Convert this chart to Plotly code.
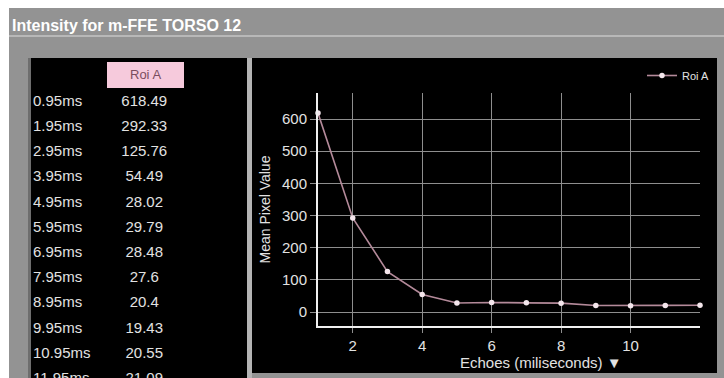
import plotly.graph_objects as go

# ---- data ---------------------------------------------------------------
echo_times = ["0.95ms", "1.95ms", "2.95ms", "3.95ms", "4.95ms", "5.95ms",
              "6.95ms", "7.95ms", "8.95ms", "9.95ms", "10.95ms", "11.95ms"]
roi_a = [618.49, 292.33, 125.76, 54.49, 28.02, 29.79,
         28.48, 27.6, 20.4, 19.43, 20.55, 21.09]
echo_numbers = [1, 2, 3, 4, 5, 6, 7, 8, 9, 10, 11, 12]
x_ticks = [2, 4, 6, 8, 10]
y_ticks = [0, 100, 200, 300, 400, 500, 600]
series_name = "Roi A"
window_title = "Intensity for m-FFE TORSO 12"
x_title = "Echoes (miliseconds) \u25BC"
y_title = "Mean Pixel Value"

W, H = 724, 378
FONT = "Liberation Sans"
TXT = "#e2e2e2"


def px(x):
    return x / W


def py(y):
    return 1 - y / H


def rect(x0, y0, x1, y1, color):
    return dict(type="rect", xref="paper", yref="paper", layer="below",
                x0=px(x0), x1=px(x1), y0=py(y1), y1=py(y0),
                fillcolor=color, line=dict(width=0))


fig = go.Figure()

# intensity curve
fig.add_trace(go.Scatter(
    x=echo_numbers, y=roi_a, name=series_name, mode="lines+markers",
    line=dict(color="#b48a9a", width=1.6),
    marker=dict(color="#f4e6ec", size=5.5),
    xaxis="x", yaxis="y", cliponaxis=False,
))

# value table (row index on a hidden axis)
rows = list(range(len(echo_times)))
fig.add_trace(go.Scatter(
    x=[0.0] * len(rows), y=rows, text=echo_times, mode="text",
    textposition="middle right", textfont=dict(family=FONT, size=15, color=TXT),
    xaxis="x2", yaxis="y2", showlegend=False, hoverinfo="skip",
))
fig.add_trace(go.Scatter(
    x=[0.52] * len(rows), y=rows,
    text=[f"{v:g}" for v in roi_a], mode="text",
    textposition="middle center", textfont=dict(family=FONT, size=15, color=TXT),
    xaxis="x2", yaxis="y2", showlegend=False, hoverinfo="skip",
))

row0, row_step = 102, 25.2
tbl_top, tbl_bot = 58, H

shapes = [
    rect(9, 8, W, H, "#939393"),          # window frame
    rect(9, 35, W, 37, "#b8b8b8"),        # separator under the title bar
    rect(28, 58, 31, H, "#6e6e6e"),
    rect(31, 58, 247, H, "#000000"),      # table panel
    rect(247, 58, 252, H, "#b4b4b4"),     # divider
    rect(252, 58, 717, 373, "#000000"),   # chart panel
    rect(107, 62, 184, 88, "#f6cadc"),    # column header
]

annotations = [
    dict(text=f"<b>{window_title}</b>", xref="paper", yref="paper",
         x=px(10), y=py(25), xanchor="left", yanchor="middle", showarrow=False,
         font=dict(family=FONT, size=16, color="#ffffff")),
    dict(text=series_name, xref="paper", yref="paper",
         x=px(145.5), y=py(75), xanchor="center", yanchor="middle", showarrow=False,
         font=dict(family=FONT, size=13, color="#7a4e5e")),
    dict(text=x_title, xref="paper", yref="paper",
         x=px(541), y=py(362), xanchor="center", yanchor="middle", showarrow=False,
         font=dict(family=FONT, size=15, color=TXT)),
]

fig.update_layout(
    width=W, height=H, margin=dict(l=0, r=0, t=0, b=0),
    paper_bgcolor="#ffffff", plot_bgcolor="rgba(0,0,0,0)",
    shapes=shapes, annotations=annotations,
    showlegend=True,
    legend=dict(x=px(714), y=py(61), xanchor="right", yanchor="top",
                bgcolor="rgba(0,0,0,0)", itemwidth=30,
                font=dict(family=FONT, size=11, color=TXT)),
    xaxis=dict(domain=[px(318), px(700)], range=[1, 12],
               tickvals=x_ticks, showgrid=True, gridcolor="#8e8e8e", gridwidth=1,
               showline=True, linecolor="#f0f0f0", linewidth=2,
               ticks="outside", ticklen=5, tickcolor="#8e8e8e",
               zeroline=False, anchor="y",
               tickfont=dict(family=FONT, size=15, color=TXT)),
    yaxis=dict(domain=[py(326), py(93)], range=[-43.5, 681],
               tickvals=y_ticks, showgrid=True, gridcolor="#8e8e8e", gridwidth=1,
               showline=True, linecolor="#f0f0f0", linewidth=2,
               ticks="outside", ticklen=6, tickcolor="#8e8e8e",
               zeroline=False, anchor="x",
               title=dict(text=y_title, standoff=8,
                          font=dict(family=FONT, size=14, color=TXT)),
               tickfont=dict(family=FONT, size=15, color=TXT)),
    xaxis2=dict(domain=[px(33), px(247)], range=[0, 1], visible=False,
                anchor="y2", fixedrange=True),
    yaxis2=dict(domain=[0, py(tbl_top)],
                range=[(tbl_bot - row0) / row_step, (tbl_top - row0) / row_step],
                visible=False, anchor="x2", fixedrange=True),
)

fig.write_html("out.html")
